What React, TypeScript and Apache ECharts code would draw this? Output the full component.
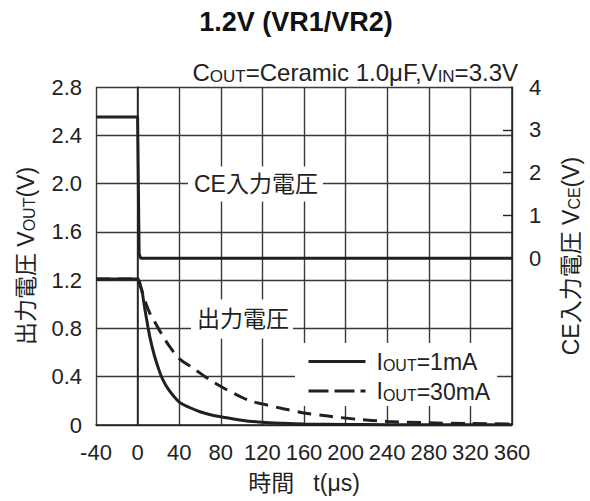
import React, { useEffect, useRef } from "react";
import * as echarts from "echarts";

// time axis (µs)
const timeMin = -40;
const timeMax = 360;
const timeStep = 40;

// left axis: output voltage (V)
const voutMin = 0;
const voutMax = 2.8;
const voutStep = 0.4;

// right axis: CE voltage (V)
const vceMin = -3.89;
const vceMax = 4;
const vceLabels = [0, 1, 2, 3, 4];
const vceTicks = [1, 2, 3];

// CE input voltage
const ceTime = [-40, 0, 1.5, 3, 360];
const ceVolt = [3.3, 3.3, 0.1, 0, 0];

// Output voltage, IOUT = 1mA
const t1mA = [-40, 0, 2, 4, 7, 10, 12, 16, 20, 24, 30, 40, 50, 60, 70, 80, 100, 120, 140, 160, 200, 240, 280, 320, 360];
const v1mA = [1.21, 1.21, 1.17, 1.12, 0.96, 0.81, 0.72, 0.58, 0.47, 0.38, 0.29, 0.19, 0.145, 0.11, 0.085, 0.068, 0.04, 0.022, 0.014, 0.009, 0.005, 0.003, 0.002, 0.002, 0.002];

// Output voltage, IOUT = 30mA
const t30mA = [-40, 0, 3, 7, 12, 16, 20, 24, 30, 40, 50, 56, 65, 72, 84, 100, 110, 120, 140, 160, 183, 210, 240, 280, 320, 360];
const v30mA = [1.21, 1.21, 1.14, 1.03, 0.92, 0.86, 0.8, 0.74, 0.66, 0.55, 0.49, 0.455, 0.4, 0.36, 0.3, 0.23, 0.195, 0.175, 0.135, 0.1, 0.074, 0.048, 0.03, 0.018, 0.012, 0.008];

const seriesNames = ["IOUT=1mA", "IOUT=30mA"];
const legendRich = ["I{s|OUT}{m|=1mA}", "I{s|OUT}{m|=30mA}"];

const FONT = "'Liberation Sans', Arial, Helvetica, sans-serif";
const CJK = "'Liberation Sans', 'Noto Sans CJK JP', sans-serif";
const INK = "#231f20";
const GRID = "#3a3a3a";

const zip = (a: number[], b: number[]) => a.map((x, i) => [x, b[i]]);

export default function App() {
  const ref = useRef<HTMLDivElement>(null);
  useEffect(() => {
    document.body.style.margin = "0";
    const chart = echarts.init(ref.current!, undefined, { renderer: "svg" });
    const subRich = {
      m: { fontSize: 23, fontFamily: CJK, color: "#222", verticalAlign: "bottom" as const, lineHeight: 26 },
      s: { fontSize: 16, fontFamily: FONT, color: "#222", verticalAlign: "bottom" as const, lineHeight: 24 },
    };
    chart.setOption({
      animation: false,
      backgroundColor: "#fff",
      color: [INK, INK, INK],
      grid: { left: 96, right: 74, top: 87, bottom: 76, containLabel: false },
      xAxis: {
        type: "value",
        min: timeMin,
        max: timeMax,
        interval: timeStep,
        name: "時間   t(μs)",
        nameLocation: "middle",
        nameGap: 46,
        nameTextStyle: { fontSize: 23, fontFamily: CJK, color: "#222" },
        axisLine: { show: true, lineStyle: { color: INK, width: 1.5 } },
        axisTick: { show: false },
        axisLabel: { fontSize: 22, fontFamily: FONT, color: "#222", margin: 16, formatter: (v: number) => String(v) },
        splitLine: { show: true, lineStyle: { color: GRID, width: 1.4 } },
      },
      yAxis: [
        {
          type: "value",
          min: voutMin,
          max: voutMax,
          interval: voutStep,
          position: "left",
          name: "{m|出力電圧 V}{s|OUT}{m|(V)}",
          nameLocation: "middle",
          nameGap: 59,
          nameTextStyle: { rich: subRich },
          axisLine: { show: true, lineStyle: { color: INK, width: 1.5 } },
          axisTick: { show: false },
          axisLabel: {
            fontSize: 22,
            fontFamily: FONT,
            color: "#222",
            margin: 14,
            formatter: (v: number) => (v === 0 ? "0" : v.toFixed(1)),
          },
          splitLine: { show: true, lineStyle: { color: GRID, width: 1.4 } },
        },
        {
          type: "value",
          min: vceMin,
          max: vceMax,
          position: "right",
          name: "{m|CE入力電圧 V}{s|CE}{m|(V)}",
          nameLocation: "middle",
          nameRotate: 90,
          nameGap: 44,
          nameTextStyle: { rich: subRich },
          axisLine: { show: true, lineStyle: { color: INK, width: 1.5 } },
          axisTick: { show: true, inside: true, length: 9, customValues: vceTicks, lineStyle: { color: INK, width: 1.4 } },
          axisLabel: {
            fontSize: 22,
            fontFamily: FONT,
            color: "#222",
            margin: 17,
            customValues: vceLabels,
            formatter: (v: number) => String(v),
          },
          splitLine: { show: false },
        },
      ],
      legend: {
        orient: "vertical",
        left: 295,
        top: 343,
        padding: [7, 7, 3, 12],
        backgroundColor: "#fff",
        itemWidth: 57,
        itemHeight: 14,
        itemGap: 6,
        z: 10,
        itemStyle: { opacity: 0 },
        lineStyle: { width: 3, color: INK },
        data: [
          { name: seriesNames[0], lineStyle: { width: 3, color: INK, type: "solid" } },
          { name: seriesNames[1], lineStyle: { width: 3, color: INK, type: [20, 6] } },
        ],
        formatter: (name: string) => legendRich[seriesNames.indexOf(name)],
        textStyle: {
          fontSize: 23,
          fontFamily: FONT,
          color: "#222",
          padding: [0, 0, 0, 6],
          rich: {
            m: { fontSize: 23, fontFamily: FONT, color: "#222", verticalAlign: "bottom", lineHeight: 24 },
            s: { fontSize: 16, fontFamily: FONT, color: "#222", verticalAlign: "bottom", lineHeight: 22 },
          },
        },
      },
      series: [
        {
          name: "CE",
          type: "line",
          yAxisIndex: 1,
          data: zip(ceTime, ceVolt),
          showSymbol: false,
          symbol: "none",
          itemStyle: { color: INK },
          lineStyle: { color: INK, width: 3 },
          z: 3,
        },
        {
          name: seriesNames[1],
          type: "line",
          yAxisIndex: 0,
          data: zip(t30mA, v30mA),
          smooth: 0.3,
          showSymbol: false,
          symbol: "none",
          itemStyle: { color: INK },
          lineStyle: { color: INK, width: 3, type: [14, 8] },
          z: 3,
        },
        {
          name: seriesNames[0],
          type: "line",
          yAxisIndex: 0,
          data: zip(t1mA, v1mA),
          smooth: 0.3,
          showSymbol: false,
          symbol: "none",
          itemStyle: { color: INK },
          lineStyle: { color: INK, width: 3 },
          z: 4,
        },
      ],
      graphic: [
        {
          type: "text",
          x: 296,
          y: 22,
          style: {
            text: "1.2V (VR1/VR2)",
            fontSize: 27,
            fontWeight: "bold",
            fontFamily: FONT,
            fill: "#111",
            align: "center",
            verticalAlign: "middle",
          },
        },
        {
          type: "text",
          x: 518,
          y: 71,
          style: {
            text: "{m|C}{s|OUT}{m|=Ceramic 1.0μF,V}{s|IN}{m|=3.3V}",
            align: "right",
            verticalAlign: "middle",
            rich: {
              m: { fontSize: 24, fontFamily: FONT, fill: "#222", verticalAlign: "bottom", lineHeight: 27 },
              s: { fontSize: 17, fontFamily: FONT, fill: "#222", verticalAlign: "bottom", lineHeight: 25 },
            },
          },
        },
        {
          type: "text",
          x: 188,
          y: 184,
          z: 50,
          style: {
            text: "CE入力電圧",
            fontSize: 23,
            fontFamily: CJK,
            fill: "#222",
            align: "left",
            verticalAlign: "middle",
            backgroundColor: "#fff",
            padding: [6, 5, 6, 6],
          },
        },
        {
          type: "text",
          x: 191,
          y: 319,
          z: 50,
          style: {
            text: "出力電圧",
            fontSize: 23,
            fontFamily: CJK,
            fill: "#222",
            align: "left",
            verticalAlign: "middle",
            backgroundColor: "#fff",
            padding: [8, 4, 8, 6],
          },
        },
      ],
    });
    return () => chart.dispose();
  }, []);
  return <div ref={ref} style={{ position: "fixed", left: 0, top: 0, width: 590, height: 501 }} />;
}
